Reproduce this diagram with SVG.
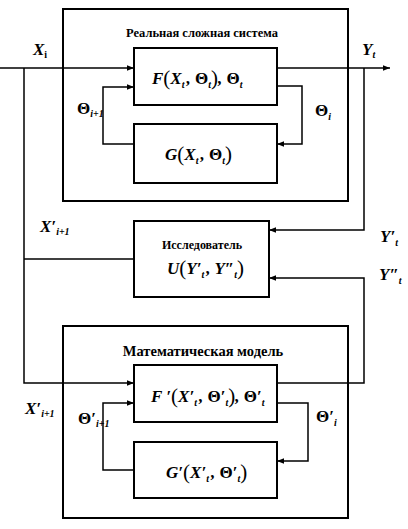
<svg xmlns="http://www.w3.org/2000/svg" width="408" height="529" viewBox="0 0 408 529">
<defs>
<marker id="ar" viewBox="0 0 10 10" refX="10" refY="5" markerWidth="7" markerHeight="7" markerUnits="userSpaceOnUse" orient="auto">
<path d="M0,1 L10,5 L0,9 Z" fill="#000"/>
</marker>
<style>
.box{fill:#fff;stroke:#000;stroke-width:2}
.ln{fill:none;stroke:#000;stroke-width:1.5}
text{font-family:'Liberation Serif','Times New Roman',Times,serif;fill:#000}
.t{font-weight:bold;font-size:13px}
.m{font-weight:bold;font-style:italic;font-size:17px}
.p{font-style:normal;font-weight:normal;font-size:21px}
.s{font-size:10px}
.g{font-style:normal}
</style>
</defs>
<rect width="408" height="529" fill="#fff"/>

<g id="real-system">
<rect class="box" x="63" y="9" width="285" height="192"/>
<text class="t" x="202" y="37" text-anchor="middle" style="font-size:12.5px">Реальная сложная система</text>
</g>
<g id="F">
<rect class="box" x="134" y="48" width="143" height="57"/>
<text class="m" x="152" y="84">F<tspan class="p" dy="1">(</tspan><tspan dy="-1">X</tspan><tspan class="s" dy="4">t</tspan><tspan dx="2" dy="-4">, </tspan><tspan class="g">Θ</tspan><tspan class="s" dy="4">t</tspan><tspan class="p" dy="-3">)</tspan><tspan dy="-1">, </tspan><tspan class="g">Θ</tspan><tspan class="s" dy="4">t</tspan></text>
</g>
<g id="G">
<rect class="box" x="134" y="124" width="143" height="59"/>
<text class="m" x="165" y="160">G<tspan class="p" dy="1">(</tspan><tspan dy="-1">X</tspan><tspan class="s" dy="4">t</tspan><tspan dx="2" dy="-4">, </tspan><tspan class="g">Θ</tspan><tspan class="s" dy="4">t</tspan><tspan class="p" dy="-3">)</tspan></text>
</g>
<g id="researcher">
<rect class="box" x="134" y="221" width="135" height="76"/>
<text class="t" x="202" y="249" text-anchor="middle" style="font-size:12px">Исследователь</text>
<text class="m" x="167" y="274">U<tspan class="p" dy="1">(</tspan><tspan dy="-1">Y′</tspan><tspan class="s" dy="4">t</tspan><tspan dx="2" dy="-4">, Y″</tspan><tspan class="s" dy="4">t</tspan><tspan class="p" dy="-3">)</tspan></text>
</g>
<g id="math-model">
<rect class="box" x="63" y="326" width="285" height="192"/>
<text class="t" x="203" y="356" text-anchor="middle" style="font-size:14.5px">Математическая модель</text>
</g>
<g id="F2">
<rect class="box" x="134" y="365" width="143" height="57"/>
<text class="m" x="151" y="402">F ′<tspan class="p" dy="1">(</tspan><tspan dy="-1">X′</tspan><tspan class="s" dy="4">t</tspan><tspan dx="2" dy="-4">, </tspan><tspan class="g">Θ′</tspan><tspan class="s" dy="4">t</tspan><tspan class="p" dy="-3">)</tspan><tspan dy="-1">, </tspan><tspan class="g">Θ′</tspan><tspan class="s" dy="4">t</tspan></text>
</g>
<g id="G2">
<rect class="box" x="134" y="442" width="143" height="56"/>
<text class="m" x="166" y="478">G′<tspan class="p" dy="1">(</tspan><tspan dy="-1">X′</tspan><tspan class="s" dy="4">t</tspan><tspan dx="2" dy="-4">, </tspan><tspan class="g">Θ′</tspan><tspan class="s" dy="4">t</tspan><tspan class="p" dy="-3">)</tspan></text>
</g>

<g id="connectors">
<path class="ln" d="M0,68 H134" marker-end="url(#ar)"/>
<path class="ln" d="M277,68 H390" marker-end="url(#ar)"/>
<path class="ln" d="M24,68 V383 H134" marker-end="url(#ar)"/>
<path class="ln" d="M24,259 H134"/>
<path class="ln" d="M364,68 V230 H269" marker-end="url(#ar)"/>
<path class="ln" d="M277,383 H364 V278 H269" marker-end="url(#ar)"/>
<path class="ln" d="M277,86 H302 V144 H277" marker-end="url(#ar)"/>
<path class="ln" d="M134,144 H103 V87 H134" marker-end="url(#ar)"/>
<path class="ln" d="M277,403 H308 V461 H277" marker-end="url(#ar)"/>
<path class="ln" d="M134,470 H103 V403 H134" marker-end="url(#ar)"/>
</g>

<g id="labels">
<text class="m" x="33" y="55">X<tspan class="s" dy="3" font-style="normal">i</tspan></text>
<text class="m" x="362" y="55">Y<tspan class="s" dy="3">t</tspan></text>
<text class="m" x="77" y="114"><tspan class="g">Θ</tspan><tspan class="s" dy="3">i+1</tspan></text>
<text class="m" x="315" y="116"><tspan class="g">Θ</tspan><tspan class="s" dy="4">i</tspan></text>
<text class="m" x="40" y="232">X′<tspan class="s" dy="3">i+1</tspan></text>
<text class="m" x="380" y="242">Y′<tspan class="s" dy="4">t</tspan></text>
<text class="m" x="379" y="280">Y″<tspan class="s" dy="4">t</tspan></text>
<text class="m" x="25" y="414">X′<tspan class="s" dy="3">i+1</tspan></text>
<text class="m" x="78" y="424"><tspan class="g">Θ′</tspan><tspan class="s" dy="3">i+1</tspan></text>
<text class="m" x="316" y="422"><tspan class="g">Θ′</tspan><tspan class="s" dy="4">i</tspan></text>
</g>
</svg>
